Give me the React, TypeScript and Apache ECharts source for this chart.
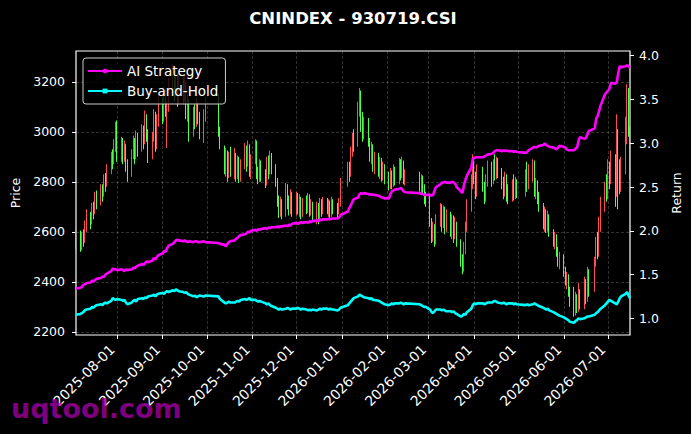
import React, { useEffect, useRef } from 'react';
import * as echarts from 'echarts';

const FONT = '"DejaVu Sans", "Liberation Sans", sans-serif';

const titleText = 'CNINDEX - 930719.CSI';
const watermarkText = 'uqtool.com';
const firstDay = '2025-07-04';
const lastDay = '2026-07-16';
const holidays = [
  '2025-10-01', '2025-10-02', '2025-10-03', '2025-10-06', '2025-10-07', '2025-10-08',
  '2026-01-01', '2026-01-02', '2026-02-16', '2026-02-17', '2026-02-18', '2026-02-19', '2026-02-20',
  '2026-04-06', '2026-05-01', '2026-05-04', '2026-05-05', '2026-06-19',
];
const tickLabels = [
  '2025-08-01', '2025-09-01', '2025-10-01', '2025-11-01', '2025-12-01', '2026-01-01',
  '2026-02-01', '2026-03-01', '2026-04-01', '2026-05-01', '2026-06-01', '2026-07-01',
];
const priceTicks = [2200, 2400, 2600, 2800, 3000, 3200];
const returnTicks = [1.0, 1.5, 2.0, 2.5, 3.0, 3.5, 4.0];

// [open, close, low, high] per trading day
const candles = [
  [2585, 2550, 2530, 2605],
  [2590, 2535, 2520, 2605], [2540, 2585, 2525, 2600], [2580, 2560, 2540, 2610], [2565, 2630, 2555, 2645], [2625, 2660, 2600, 2690],
  [2655, 2640, 2610, 2680], [2645, 2700, 2630, 2715], [2695, 2680, 2650, 2720], [2685, 2740, 2670, 2760], [2735, 2720, 2690, 2765],
  [2720, 2770, 2705, 2790], [2765, 2750, 2720, 2790], [2755, 2810, 2740, 2830], [2805, 2790, 2760, 2835], [2795, 2850, 2780, 2870],
  [2850, 2900, 2830, 2920], [2895, 2880, 2850, 2930], [2885, 2950, 2870, 2970], [2945, 3010, 2920, 3040], [3020, 2900, 2880, 3045],
  [2905, 2960, 2880, 2980], [2955, 2900, 2870, 2975], [2905, 2940, 2880, 2965], [2935, 2860, 2840, 2950], [2860, 2830, 2800, 2890],
  [2835, 2910, 2820, 2930], [2905, 2960, 2890, 2985], [2955, 2900, 2870, 2975], [2905, 2985, 2890, 3005], [2980, 2930, 2900, 2995],
  [2935, 3010, 2920, 3030], [3005, 2960, 2930, 3025], [2965, 3060, 2950, 3085], [3055, 2990, 2960, 3070], [2990, 2900, 2875, 3010],
  [2905, 2980, 2890, 3000], [2975, 3070, 2960, 3090], [3065, 2940, 2920, 3080], [2945, 3050, 2930, 3070], [3045, 3120, 3020, 3150],
  [3115, 3060, 3030, 3140], [3060, 3150, 3040, 3180], [3145, 3080, 3060, 3170], [2960, 3100, 2935, 3120], [3100, 3190, 3080, 3215],
  [3185, 3240, 3150, 3270], [3235, 3160, 3120, 3250], [3165, 3220, 3140, 3260], [3215, 3130, 3100, 3235], [3130, 3200, 3110, 3245],
  [3195, 3150, 3110, 3220], [3150, 3190, 3120, 3230], [3185, 3080, 3050, 3200], [3080, 3120, 3040, 3150], [3115, 2990, 2960, 3130],
  [2995, 3080, 2980, 3100], [3075, 3040, 3010, 3110], [3040, 3110, 3020, 3135], [3105, 3060, 3030, 3120], [3060, 3000, 2970, 3080],
  [2990, 3070, 2955, 3090], [3065, 3110, 3040, 3140],
  [3120, 3000, 2980, 3150], [3000, 2950, 2930, 3020],
  [2940, 2860, 2830, 2945], [2860, 2910, 2820, 2935], [2905, 2830, 2800, 2925], [2835, 2890, 2815, 2920], [2885, 2850, 2820, 2940],
  [2850, 2900, 2810, 2935], [2895, 2840, 2800, 2915], [2840, 2880, 2810, 2905], [2875, 2820, 2795, 2900], [2825, 2870, 2800, 2890],
  [2870, 2930, 2850, 2955], [2925, 2870, 2840, 2945], [2875, 2940, 2860, 2965], [2935, 2850, 2820, 2950], [2850, 2890, 2810, 2910],
  [2890, 2960, 2870, 2970], [2955, 2830, 2810, 2965], [2835, 2810, 2790, 2860], [2815, 2870, 2800, 2890], [2865, 2830, 2800, 2885],
  [2825, 2800, 2775, 2850], [2800, 2880, 2785, 2900], [2875, 2840, 2810, 2905], [2845, 2910, 2830, 2925], [2905, 2860, 2830, 2915],
  [2860, 2800, 2780, 2870], [2800, 2730, 2700, 2815], [2730, 2680, 2655, 2745], [2680, 2720, 2660, 2740], [2715, 2670, 2650, 2730],
  [2670, 2780, 2660, 2795], [2775, 2720, 2690, 2790], [2720, 2690, 2665, 2745], [2690, 2750, 2670, 2770], [2745, 2680, 2660, 2760],
  [2680, 2740, 2665, 2760], [2735, 2700, 2670, 2755], [2700, 2730, 2660, 2750], [2725, 2670, 2650, 2740], [2675, 2720, 2660, 2735],
  [2720, 2690, 2670, 2745], [2690, 2740, 2675, 2755], [2735, 2680, 2660, 2750], [2680, 2710, 2665, 2730], [2705, 2660, 2640, 2720],
  [2660, 2700, 2630, 2720], [2695, 2650, 2630, 2715], [2650, 2715, 2640, 2735], [2710, 2690, 2660, 2730], [2690, 2725, 2670, 2740],
  [2720, 2690, 2670, 2735], [2690, 2710, 2660, 2730], [2705, 2670, 2655, 2725], [2670, 2720, 2660, 2740], [2715, 2695, 2670, 2730],
  [2695, 2680, 2655, 2715], [2680, 2720, 2670, 2735], [2715, 2790, 2700, 2815],
  [2790, 2860, 2780, 2880], [2855, 2830, 2800, 2880], [2830, 2920, 2820, 2940], [2915, 2980, 2900, 2995], [2975, 2950, 2920, 3010],
  [2950, 3100, 2940, 3120], [3095, 3150, 3060, 3175], [3150, 3060, 3000, 3165], [3060, 2990, 2960, 3080], [2995, 3040, 2970, 3060],
  [3040, 2960, 2940, 3055], [2960, 2900, 2880, 2975], [2905, 2940, 2870, 2960], [2935, 2860, 2840, 2950], [2860, 2900, 2830, 2920],
  [2900, 2840, 2820, 2915], [2840, 2880, 2810, 2900], [2875, 2820, 2800, 2895], [2825, 2860, 2805, 2880], [2855, 2810, 2790, 2870],
  [2810, 2780, 2765, 2840], [2780, 2830, 2770, 2855], [2825, 2790, 2770, 2845], [2790, 2850, 2780, 2870], [2845, 2800, 2785, 2860],
  [2800, 2870, 2790, 2895], [2865, 2830, 2805, 2890], [2835, 2880, 2815, 2900], [2875, 2800, 2790, 2885], [2800, 2830, 2785, 2850],
  [2830, 2790, 2760, 2840], [2790, 2810, 2755, 2830], [2805, 2770, 2750, 2825], [2770, 2740, 2710, 2790], [2740, 2720, 2700, 2760],
  [2730, 2640, 2620, 2745], [2640, 2580, 2555, 2655], [2585, 2620, 2560, 2640], [2615, 2560, 2540, 2630], [2560, 2650, 2550, 2670],
  [2645, 2700, 2620, 2715], [2695, 2630, 2600, 2710], [2635, 2690, 2615, 2705], [2685, 2620, 2590, 2700], [2620, 2670, 2600, 2690],
  [2665, 2600, 2580, 2680], [2600, 2650, 2570, 2670], [2645, 2580, 2555, 2665], [2585, 2630, 2570, 2660], [2625, 2560, 2540, 2640],
  [2560, 2480, 2460, 2570], [2480, 2450, 2430, 2510], [2455, 2540, 2440, 2560], [2535, 2620, 2510, 2640], [2615, 2700, 2600, 2730],
  [2695, 2800, 2680, 2830], [2795, 2880, 2770, 2910], [2875, 2820, 2790, 2900], [2820, 2760, 2730, 2840], [2760, 2850, 2740, 2870],
  [2845, 2780, 2760, 2860], [2780, 2730, 2710, 2800], [2735, 2800, 2720, 2830], [2795, 2860, 2780, 2885],
  [2855, 2800, 2780, 2880], [2805, 2870, 2790, 2890], [2865, 2830, 2805, 2910], [2830, 2880, 2810, 2900], [2875, 2840, 2815, 2895],
  [2840, 2790, 2770, 2855], [2790, 2760, 2730, 2820], [2765, 2820, 2740, 2840], [2815, 2750, 2720, 2830], [2750, 2730, 2710, 2790],
  [2730, 2790, 2720, 2810], [2785, 2750, 2725, 2830], [2750, 2800, 2730, 2820], [2795, 2760, 2735, 2810],
  [2760, 2830, 2740, 2850], [2825, 2790, 2760, 2880], [2790, 2850, 2770, 2870],
  [2845, 2870, 2800, 2890], [2870, 2760, 2740, 2885], [2760, 2800, 2730, 2815], [2795, 2740, 2710, 2805], [2740, 2700, 2680, 2760],
  [2700, 2640, 2610, 2715], [2640, 2680, 2600, 2700], [2675, 2620, 2595, 2690], [2620, 2660, 2600, 2685], [2655, 2600, 2580, 2670],
  [2600, 2560, 2540, 2610], [2560, 2580, 2530, 2600], [2575, 2520, 2500, 2590], [2520, 2480, 2460, 2540], [2480, 2500, 2450, 2520],
  [2495, 2440, 2420, 2510], [2440, 2400, 2385, 2460], [2400, 2420, 2370, 2440], [2415, 2360, 2340, 2430], [2360, 2320, 2300, 2380],
  [2320, 2280, 2260, 2380], [2280, 2340, 2265, 2360], [2335, 2300, 2275, 2350], [2300, 2360, 2280, 2395], [2355, 2310, 2290, 2370],
  [2310, 2400, 2290, 2420], [2395, 2330, 2310, 2410], [2330, 2440, 2320, 2460], [2435, 2370, 2340, 2450],
  [2370, 2480, 2360, 2500], [2475, 2560, 2460, 2580], [2555, 2520, 2490, 2600], [2520, 2640, 2500, 2660], [2635, 2700, 2600, 2740],
  [2695, 2780, 2680, 2800], [2775, 2740, 2720, 2830], [2740, 2860, 2730, 2890], [2855, 2810, 2770, 2880], [2810, 2900, 2790, 2925],
  [2895, 2760, 2700, 2910], [2760, 3000, 2740, 3070], [2995, 2850, 2690, 3010], [2850, 2780, 2750, 2890], [2780, 2860, 2760, 2900],
  [2860, 2980, 2830, 3060], [2975, 3170, 2950, 3190], [3160, 3050, 2980, 3175], [3040, 2880, 2810, 3020],
];

const aiStrategy = [
  1.34,
  1.35, 1.36, 1.38, 1.39, 1.40, 1.41, 1.43, 1.42, 1.44, 1.45, 1.46, 1.48, 1.47, 1.50, 1.51,
  1.54, 1.57, 1.56, 1.56, 1.55, 1.56, 1.55, 1.54, 1.56, 1.55, 1.56, 1.58, 1.57, 1.59, 1.60,
  1.62, 1.61, 1.63, 1.65, 1.64, 1.66, 1.69, 1.67, 1.70, 1.72, 1.74, 1.77, 1.76, 1.80, 1.83,
  1.85, 1.87, 1.89, 1.90, 1.89, 1.88, 1.89, 1.88, 1.87, 1.88, 1.87, 1.88, 1.88, 1.87, 1.87,
  1.88, 1.87, 1.86, 1.85,
  1.84, 1.82, 1.85, 1.87, 1.88, 1.89, 1.91, 1.92, 1.94, 1.95, 1.96, 1.97, 1.99, 1.98, 2.00,
  2.01, 2.00, 2.02, 2.01, 2.02, 2.03, 2.02, 2.04, 2.03, 2.04, 2.04, 2.05, 2.04, 2.05, 2.05,
  2.06, 2.05, 2.07, 2.06, 2.08, 2.09, 2.08, 2.09, 2.10, 2.09, 2.10, 2.09, 2.11, 2.10, 2.11,
  2.12, 2.11, 2.13, 2.12, 2.13, 2.13, 2.14, 2.13, 2.14, 2.14, 2.14, 2.15, 2.18,
  2.22, 2.26, 2.29, 2.33, 2.36, 2.38, 2.42, 2.43, 2.42, 2.43, 2.42, 2.41, 2.42, 2.41, 2.41,
  2.40, 2.39, 2.38, 2.38, 2.37, 2.37, 2.42, 2.45, 2.46, 2.47, 2.48, 2.49, 2.47, 2.45, 2.44,
  2.43, 2.42, 2.42, 2.41, 2.41, 2.41, 2.40, 2.41, 2.46, 2.50, 2.53, 2.55, 2.55, 2.56, 2.55,
  2.55, 2.56, 2.55, 2.54, 2.50, 2.45, 2.43, 2.52, 2.58, 2.63, 2.72, 2.82, 2.83, 2.84, 2.84,
  2.84, 2.85, 2.86, 2.87, 2.88, 2.89, 2.91, 2.92, 2.92, 2.91, 2.92, 2.91, 2.92, 2.91,
  2.91, 2.90, 2.91, 2.90, 2.89, 2.90, 2.92,
  2.95, 2.96, 2.95, 2.96, 2.97, 2.98, 3.00, 2.98, 2.97, 2.96, 2.95, 2.94, 2.93, 2.95, 2.97,
  2.96, 2.95, 2.93, 2.92, 2.92, 2.92, 2.94, 2.95, 3.03, 3.07, 3.05, 3.06, 3.10, 3.14,
  3.17, 3.28, 3.31, 3.37, 3.43, 3.56, 3.58, 3.60, 3.62, 3.69, 3.68, 3.70, 3.80, 3.88, 3.87,
  3.88, 3.89, 3.88, 3.86,
];

const buyAndHold = [
  1.04,
  1.05, 1.06, 1.07, 1.09, 1.10, 1.11, 1.13, 1.12, 1.14, 1.15, 1.16, 1.15, 1.17, 1.18, 1.17,
  1.20, 1.23, 1.22, 1.21, 1.22, 1.21, 1.20, 1.21, 1.18, 1.16, 1.18, 1.20, 1.21, 1.19, 1.22,
  1.23, 1.22, 1.24, 1.23, 1.25, 1.26, 1.27, 1.25, 1.27, 1.28, 1.29, 1.28, 1.30, 1.31, 1.30,
  1.32, 1.31, 1.33, 1.32, 1.31, 1.30, 1.29, 1.30, 1.28, 1.27, 1.25, 1.26, 1.24, 1.25, 1.26,
  1.25, 1.26, 1.25, 1.22,
  1.18, 1.17, 1.18, 1.19, 1.18, 1.18, 1.19, 1.20, 1.19, 1.21, 1.22, 1.21, 1.22, 1.23, 1.21,
  1.21, 1.20, 1.19, 1.20, 1.19, 1.17, 1.16, 1.17, 1.15, 1.14, 1.12, 1.11, 1.10, 1.11, 1.10,
  1.11, 1.12, 1.11, 1.10, 1.11, 1.11, 1.12, 1.11, 1.10, 1.11, 1.10, 1.09, 1.10, 1.09, 1.10,
  1.09, 1.10, 1.11, 1.10, 1.11, 1.11, 1.10, 1.11, 1.10, 1.10, 1.09, 1.10, 1.12,
  1.15, 1.17, 1.19, 1.21, 1.23, 1.25, 1.27, 1.26, 1.25, 1.24, 1.23, 1.22, 1.23, 1.21, 1.21,
  1.20, 1.19, 1.18, 1.17, 1.16, 1.15, 1.16, 1.17, 1.16, 1.17, 1.17, 1.18, 1.17, 1.16, 1.17,
  1.16, 1.15, 1.14, 1.13, 1.13, 1.10, 1.07, 1.06, 1.08, 1.10, 1.10, 1.09, 1.10, 1.09, 1.08,
  1.08, 1.07, 1.08, 1.06, 1.05, 1.02, 1.03, 1.05, 1.04, 1.07, 1.11, 1.15, 1.17, 1.16, 1.17,
  1.17, 1.16, 1.17, 1.18, 1.18, 1.19, 1.20, 1.19, 1.18, 1.17, 1.18, 1.17, 1.16, 1.17,
  1.17, 1.16, 1.17, 1.16, 1.15, 1.16, 1.15,
  1.16, 1.17, 1.16, 1.15, 1.14, 1.12, 1.11, 1.10, 1.11, 1.09, 1.07, 1.06, 1.05, 1.04, 1.03,
  1.01, 1.00, 0.99, 0.98, 0.96, 0.95, 0.97, 0.98, 1.00, 0.99, 1.00, 1.01, 1.02, 1.02,
  1.04, 1.06, 1.07, 1.09, 1.11, 1.15, 1.17, 1.19, 1.21, 1.20, 1.17, 1.16, 1.19, 1.23, 1.25,
  1.28, 1.30, 1.26, 1.23,
];

function parseDay(s: string): Date {
  const [y, m, d] = s.split('-').map(Number);
  return new Date(y, m - 1, d);
}
function fmtDay(d: Date): string {
  const mm = String(d.getMonth() + 1).padStart(2, '0');
  const dd = String(d.getDate()).padStart(2, '0');
  return `${d.getFullYear()}-${mm}-${dd}`;
}

function buildTradingDays(): number[] {
  const out: number[] = [];
  const end = parseDay(lastDay).getTime();
  const d = parseDay(firstDay);
  while (d.getTime() <= end) {
    const wd = d.getDay();
    if (wd !== 0 && wd !== 6 && !holidays.includes(fmtDay(d))) out.push(d.getTime());
    d.setDate(d.getDate() + 1);
  }
  return out;
}

export default function App() {
  const ref = useRef<HTMLDivElement>(null);

  useEffect(() => {
    document.body.style.margin = '0';
    document.body.style.background = '#000';
    if (!ref.current) return;
    const chart = echarts.init(ref.current, undefined, { renderer: 'svg' });

    const days = buildTradingDays();
    const n = Math.min(days.length, candles.length);
    const candleData = [] as any[];
    for (let i = 0; i < n; i++) candleData.push([days[i], ...candles[i]]);
    const aiData = [] as any[];
    for (let i = 0; i < Math.min(days.length, aiStrategy.length); i++) aiData.push([days[i], aiStrategy[i]]);
    const bhData = [] as any[];
    for (let i = 0; i < Math.min(days.length, buyAndHold.length); i++) bhData.push([days[i], buyAndHold[i]]);

    const xTickValues = tickLabels.map((s) => parseDay(s).getTime());
    const white = '#ffffff';
    const gridLine = { show: true, lineStyle: { color: 'rgba(255,255,255,0.32)', width: 0.6, type: [3, 2] as any } };

    chart.setOption({
      animation: false,
      backgroundColor: '#000000',
      textStyle: { fontFamily: FONT },
      grid: {
        left: 76, right: 61, top: 51, bottom: 99,
        show: true, borderColor: white, borderWidth: 1.2,
        containLabel: false, outerBoundsMode: 'none',
      } as any,
      xAxis: {
        type: 'value',
        min: parseDay(firstDay).getTime(),
        max: parseDay(lastDay).getTime(),
        axisLine: { show: false },
        axisTick: { show: true, customValues: xTickValues, length: 4, lineStyle: { color: white, width: 1 } },
        axisLabel: {
          customValues: xTickValues,
          rotate: 45,
          color: white,
          fontSize: 13.8,
          fontFamily: FONT,
          margin: 7,
          padding: [0, 7, 0, 0],
          formatter: (v: number) => fmtDay(new Date(v)),
        },
        splitLine: gridLine,
      } as any,
      yAxis: [
        {
          type: 'value',
          min: 2187,
          max: 3323,
          name: 'Price',
          nameLocation: 'middle',
          nameGap: 53,
          nameTextStyle: { color: white, fontSize: 12.5, fontFamily: FONT },
          axisLine: { show: false },
          axisTick: { show: true, customValues: priceTicks, length: 4, lineStyle: { color: white } },
          axisLabel: { customValues: priceTicks, color: white, fontSize: 12.5, fontFamily: FONT, margin: 11, formatter: (v: number) => String(v) },
          splitLine: gridLine,
        },
        {
          type: 'value',
          position: 'right',
          min: 0.809,
          max: 4.054,
          name: 'Return',
          nameLocation: 'middle',
          nameGap: 38,
          nameTextStyle: { color: white, fontSize: 12.5, fontFamily: FONT },
          axisLine: { show: false },
          axisTick: { show: true, customValues: returnTicks, length: 4, lineStyle: { color: white } },
          axisLabel: { customValues: returnTicks, color: white, fontSize: 12.5, fontFamily: FONT, margin: 9, formatter: (v: number) => v.toFixed(1) },
          splitLine: { show: false },
        },
      ] as any,
      legend: {
        data: ['AI Strategy', 'Buy-and-Hold'],
        orient: 'vertical',
        left: 83,
        top: 58,
        padding: [5, 7, 5, 4],
        itemGap: 4,
        itemWidth: 34,
        itemHeight: 6,
        backgroundColor: 'rgba(0,0,0,0.8)',
        borderColor: '#cccccc',
        borderWidth: 1,
        borderRadius: 3,
        selectedMode: false,
        textStyle: { color: white, fontSize: 13.5, fontFamily: FONT, lineHeight: 16 },
        z: 20,
      },
      series: [
        {
          name: 'Price',
          type: 'candlestick',
          data: candleData,
          barWidth: 1.3,
          itemStyle: {
            color: '#ff4d4d', color0: '#4dff4d',
            borderColor: '#ff4d4d', borderColor0: '#4dff4d', borderWidth: 1,
          },
          z: 1,
        },
        {
          name: 'AI Strategy',
          type: 'line',
          yAxisIndex: 1,
          data: aiData,
          symbol: 'circle',
          showSymbol: false,
          lineStyle: { color: '#ff00ff', width: 2.6 },
          itemStyle: { color: '#ff00ff' },
          z: 3,
        },
        {
          name: 'Buy-and-Hold',
          type: 'line',
          yAxisIndex: 1,
          data: bhData,
          symbol: 'rect',
          showSymbol: false,
          lineStyle: { color: '#00ffff', width: 2.6 },
          itemStyle: { color: '#00ffff' },
          z: 3,
        },
      ],
      graphic: [
        {
          type: 'text',
          x: 353,
          y: 18,
          style: { text: titleText, fill: white, font: `bold 16.5px ${FONT}`, textAlign: 'center', textVerticalAlign: 'middle' },
          z: 50,
        },
        {
          type: 'text',
          x: 11,
          y: 408,
          style: { text: watermarkText, fill: 'rgba(170,0,170,0.75)', font: `bold 27px ${FONT}`, textAlign: 'left', textVerticalAlign: 'middle' },
          z: 100,
        },
      ],
    } as any);

    return () => chart.dispose();
  }, []);

  return <div ref={ref} style={{ width: 691, height: 434, background: '#000' }} />;
}
